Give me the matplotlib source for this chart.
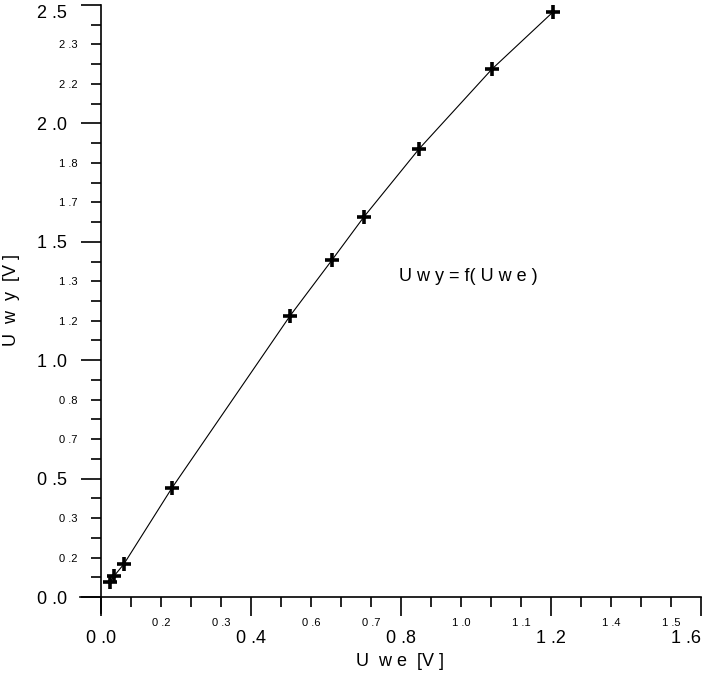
import matplotlib
matplotlib.use("Agg")
import matplotlib.pyplot as plt
import numpy as np

# data
uwe = [0.024, 0.035, 0.061, 0.189, 0.504, 0.616, 0.701, 0.848, 1.043, 1.205]
uwy = [0.063, 0.089, 0.139, 0.460, 1.187, 1.423, 1.605, 1.892, 2.230, 2.470]

x_major = [0.0, 0.4, 0.8, 1.2, 1.6]
x_major_labels = ["0 .0", "0 .4", "0 .8", "1 .2", "1 .6"]
x_minor = [0.08, 0.16, 0.24, 0.32, 0.48, 0.56, 0.64, 0.72, 0.88, 0.96, 1.04, 1.12, 1.28, 1.36, 1.44, 1.52]
x_minor_labels = ["", "0 .2", "", "0 .3", "", "0 .6", "", "0 .7", "", "1 .0", "", "1 .1", "", "1 .4", "", "1 .5"]

y_major = [0.0, 0.5, 1.0, 1.5, 2.0, 2.5]
y_major_labels = ["0 .0", "0 .5", "1 .0", "1 .5", "2 .0", "2 .5"]
y_minor = [0.0833, 0.1667, 0.25, 0.3333, 0.4167,
           0.5833, 0.6667, 0.75, 0.8333, 0.9167,
           1.0833, 1.1667, 1.25, 1.3333, 1.4167,
           1.5833, 1.6667, 1.75, 1.8333, 1.9167,
           2.0833, 2.1667, 2.25, 2.3333, 2.4167]
y_minor_labels = ["", "0 .2", "", "0 .3", "",
                  "", "0 .7", "", "0 .8", "",
                  "", "1 .2", "", "1 .3", "",
                  "", "1 .7", "", "1 .8", "",
                  "", "2 .2", "", "2 .3", ""]

FONT = ['Liberation Sans', 'DejaVu Sans']
plt.rcParams['font.family'] = FONT

W, H = 708, 676
fig = plt.figure(figsize=(W / 100, H / 100), dpi=100)
left, right, bottom, top = 101, 701, 597, 5
ax = fig.add_axes([left / W, (H - bottom) / H, (right - left) / W, (bottom - top) / H])
ax.set_xlim(0, 1.6)
ax.set_ylim(0, 2.5)
ax.patch.set_alpha(0)

for s in ['top', 'right', 'left', 'bottom']:
    ax.spines[s].set_visible(False)

# axis lines extending past origin
ax.plot([-21 / 600, 1], [0, 0], transform=ax.transAxes, color='black', lw=1.2, clip_on=False)
ax.plot([0, 0], [-16 / 592, 1], transform=ax.transAxes, color='black', lw=1.2, clip_on=False)

ax.plot(uwe, uwy, color='black', lw=0.8)
ax.plot(uwe, uwy, linestyle='none', marker='+', ms=10, mew=2.6, color='black')

ax.set_xticks(x_major)
ax.set_xticklabels(x_major_labels, fontsize=13)
ax.set_xticks(x_minor, minor=True)
ax.set_xticklabels(x_minor_labels, minor=True, fontsize=8)
ax.set_yticks(y_major)
ax.set_yticklabels(y_major_labels, fontsize=13)
ax.set_yticks(y_minor, minor=True)
ax.set_yticklabels(y_minor_labels, minor=True, fontsize=8)

ax.tick_params(axis='x', which='major', direction='out', length=13.5, width=1.2, pad=10)
ax.tick_params(axis='x', which='minor', direction='out', length=7, width=1.2, pad=8)
ax.tick_params(axis='y', which='major', direction='out', length=14.5, width=1.2, pad=10)
ax.tick_params(axis='y', which='minor', direction='out', length=7, width=1.2, pad=10)

xl = ax.get_xticklabels()
xl[-1].set_horizontalalignment('right')
yl = ax.get_yticklabels()
yl[-1].set_verticalalignment('top')

fig.text(400 / W, 1 - 662 / H, "U  w e  [V ]", ha='center', va='center', fontsize=13)
fig.text(12 / W, 1 - 300 / H, "U  w  y  [V ]", ha='center', va='center', fontsize=13, rotation=90)
fig.text(468 / W, 1 - 277 / H, "U w y = f( U w e )", ha='center', va='center', fontsize=13)

fig.savefig("out.png", dpi=100)
